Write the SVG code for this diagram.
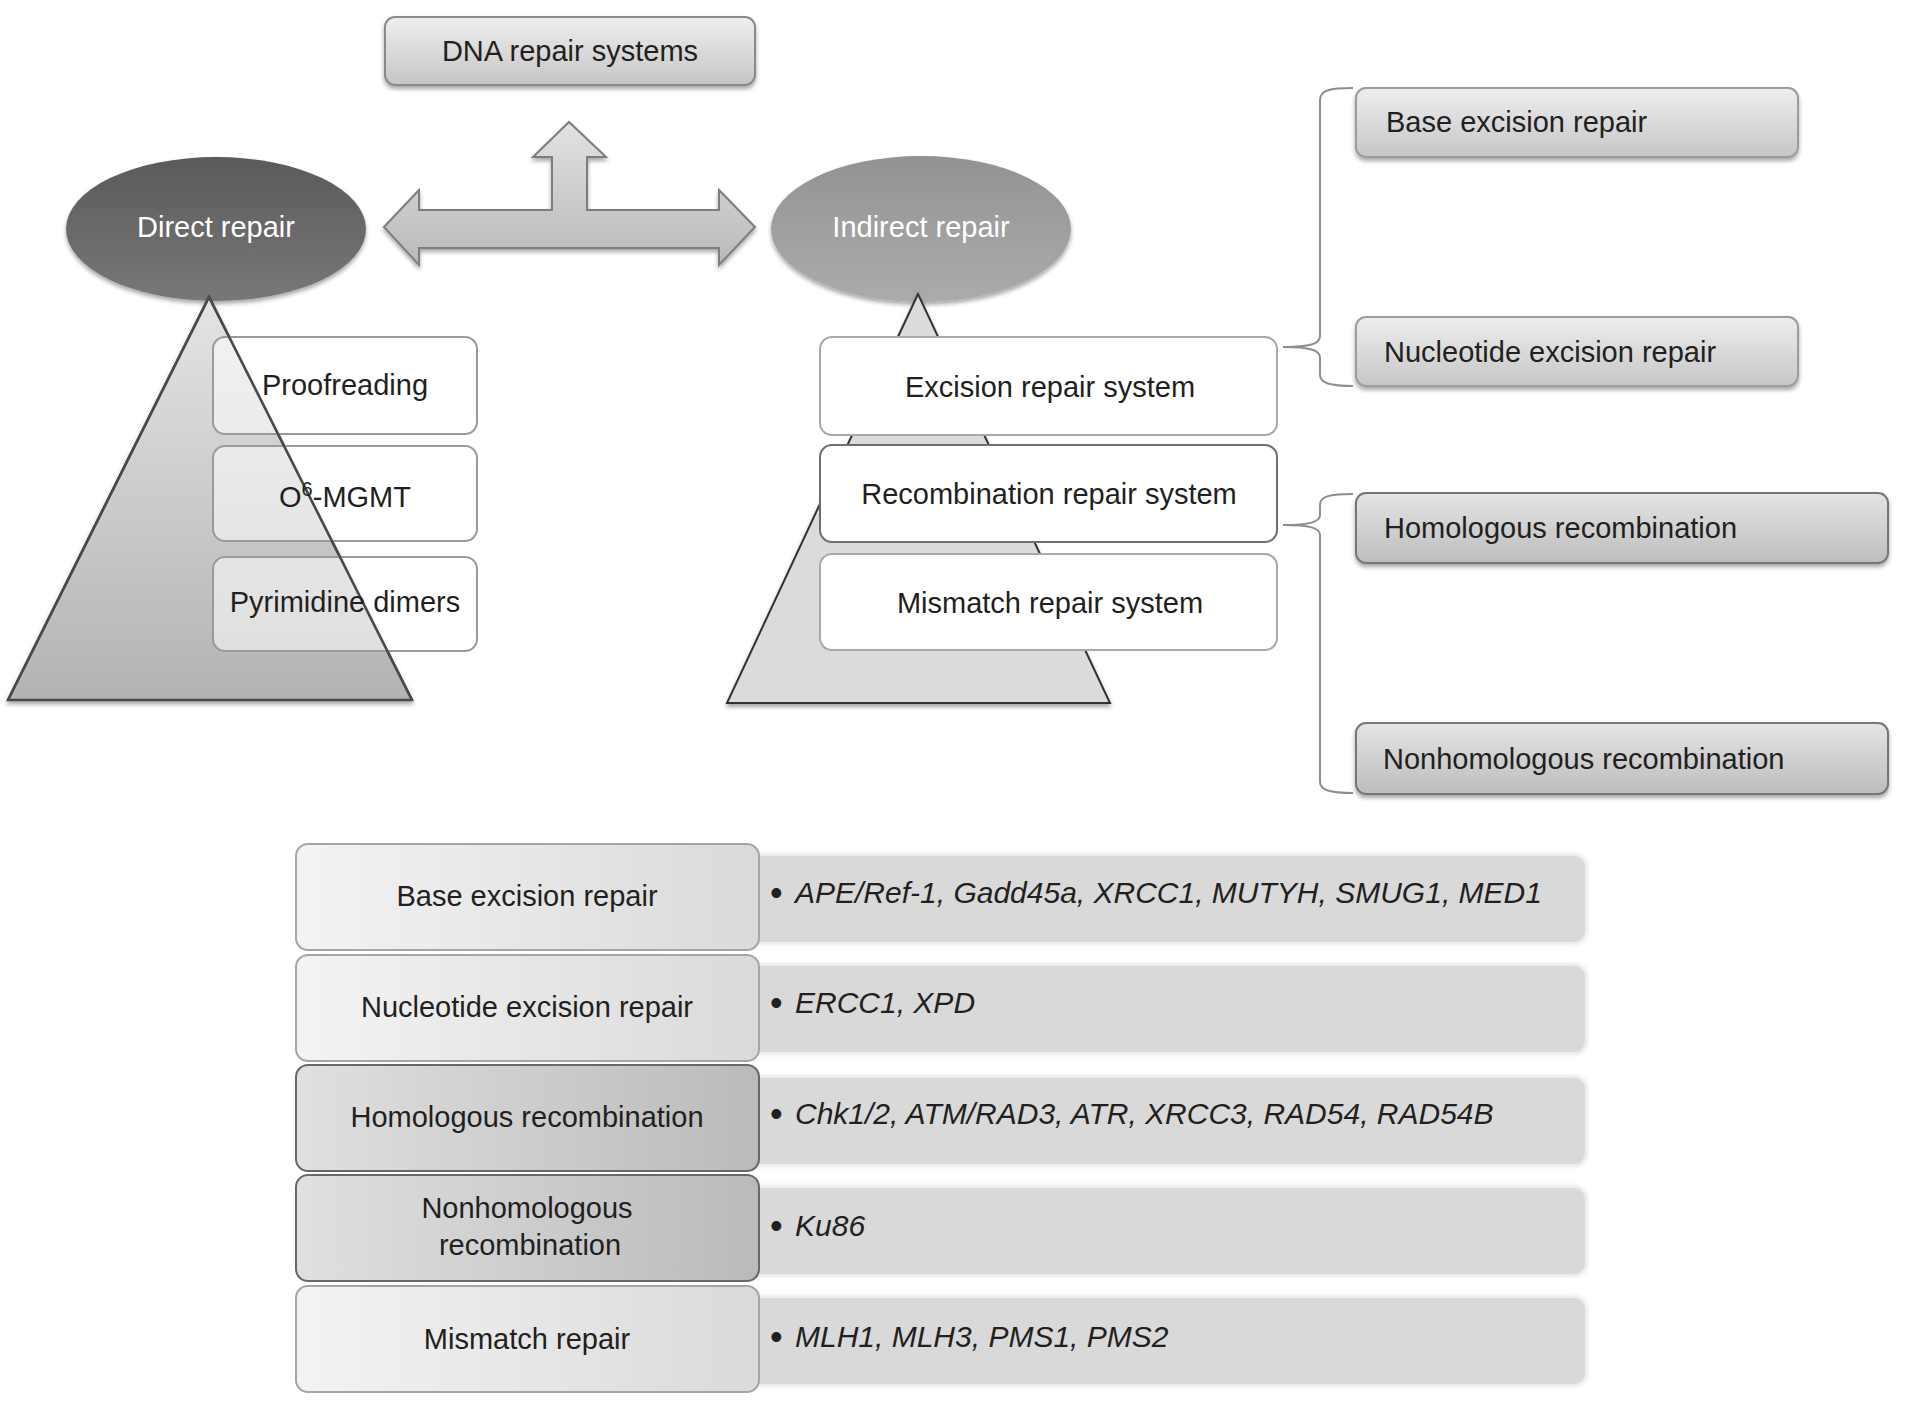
<svg xmlns="http://www.w3.org/2000/svg" width="1905" height="1407" viewBox="0 0 1905 1407">
<defs>
<style>
text{font-family:"Liberation Sans",Arial,sans-serif;fill:#231f20;font-size:29px}
.c{text-anchor:middle}
.w{fill:#ffffff}
.g{font-size:30px;font-style:italic}
.bu{font-size:36px}
.wb{fill:#ffffff;stroke:#a8a8a8;stroke-width:2}
.br{fill:none;stroke:#8e8e8e;stroke-width:2}
.lc{stroke:#a5a5a5;stroke-width:2}
.dc{stroke:#686868;stroke-width:2}
</style>
<linearGradient id="gBox" x1="0" y1="0" x2="0" y2="1"><stop offset="0" stop-color="#eeeeee"/><stop offset="1" stop-color="#c6c6c6"/></linearGradient>
<linearGradient id="gBoxD" x1="0" y1="0" x2="0" y2="1"><stop offset="0" stop-color="#e4e4e4"/><stop offset="1" stop-color="#bdbdbd"/></linearGradient>
<linearGradient id="gArrow" x1="0" y1="0" x2="0" y2="1"><stop offset="0" stop-color="#e2e2e2"/><stop offset="1" stop-color="#b9b9b9"/></linearGradient>
<linearGradient id="gDirect" x1="0" y1="0" x2="0" y2="1"><stop offset="0" stop-color="#5a5a5a"/><stop offset="0.6" stop-color="#6c6c6c"/><stop offset="1" stop-color="#787878"/></linearGradient>
<linearGradient id="gIndirect" x1="0" y1="0" x2="0" y2="1"><stop offset="0" stop-color="#929292"/><stop offset="0.6" stop-color="#a2a2a2"/><stop offset="1" stop-color="#ababab"/></linearGradient>
<linearGradient id="gTri" x1="0" y1="0" x2="0" y2="1"><stop offset="0" stop-color="#e4e4e4"/><stop offset="1" stop-color="#b3b3b3"/></linearGradient>
<linearGradient id="gCellL" x1="0" y1="0" x2="1" y2="0"><stop offset="0" stop-color="#f3f3f3"/><stop offset="1" stop-color="#dadada"/></linearGradient>
<linearGradient id="gCellD" x1="0" y1="0" x2="1" y2="0"><stop offset="0" stop-color="#e0e0e0"/><stop offset="1" stop-color="#bababa"/></linearGradient>
<filter id="sh" x="-10%" y="-10%" width="120%" height="130%"><feDropShadow dx="0" dy="3" stdDeviation="2" flood-color="#000" flood-opacity="0.35"/></filter>
<filter id="glow" x="-5%" y="-10%" width="110%" height="120%"><feDropShadow dx="0" dy="0" stdDeviation="2" flood-color="#bbbbbb" flood-opacity="0.5"/></filter>
</defs>
<rect width="1905" height="1407" fill="#ffffff"/>

<g id="dna-repair-systems">
<rect x="385" y="17" width="370" height="68" rx="10" fill="url(#gBox)" stroke="#8a8a8a" stroke-width="2" filter="url(#sh)"/>
<text class="c" x="570" y="61">DNA repair systems</text>
</g>

<g id="connectors">
<polygon points="384,227 419,190 419,210 552,210 552,157 533,157 569,122 606,157 587,157 587,210 719,210 719,190 755,227 719,265 719,248 419,248 419,265" fill="url(#gArrow)" stroke="#7d7d7d" stroke-width="2" filter="url(#sh)"/>
<path class="br" d="M1353,88 C1330,88 1320,90 1320,100 L1320,336 C1320,344 1310,347 1283,347 C1310,347 1320,350 1320,358 L1320,375 C1320,383 1330,386 1353,386"/>
<path class="br" d="M1353,494 C1330,494 1320,496 1320,505 L1320,515 C1320,522 1310,525 1283,525 C1310,525 1320,528 1320,535 L1320,782 C1320,790 1330,793 1353,793"/>
</g>

<g id="direct-repair">
<ellipse cx="216" cy="229" rx="150" ry="72" fill="url(#gDirect)" filter="url(#sh)"/>
<text class="c w" x="216" y="237">Direct repair</text>
</g>

<g id="indirect-repair">
<ellipse cx="921" cy="229" rx="150" ry="73" fill="url(#gIndirect)" filter="url(#sh)"/>
<text class="c w" x="921" y="237">Indirect repair</text>
</g>

<g id="direct-pyramid">
<polygon points="209,297 8,700 412,700" fill="url(#gTri)" stroke="#4a4a4a" stroke-width="2.5" filter="url(#sh)"/>
</g>

<g id="proofreading">
<rect x="213" y="337" width="264" height="97" rx="12" fill="#ffffff" fill-opacity="0.55" stroke="#9a9a9a" stroke-width="2"/>
</g>
<g id="o6-mgmt">
<rect x="213" y="446" width="264" height="95" rx="12" fill="#ffffff" fill-opacity="0.55" stroke="#9a9a9a" stroke-width="2"/>
</g>
<g id="pyrimidine-dimers">
<rect x="213" y="557" width="264" height="94" rx="12" fill="#ffffff" fill-opacity="0.55" stroke="#9a9a9a" stroke-width="2"/>
</g>
<g id="direct-pyramid-edge">
<polyline points="8,700 209,297 412,700" fill="none" stroke="#4a4a4a" stroke-width="2.5"/>
</g>
<g id="direct-labels">
<text class="c" x="345" y="395">Proofreading</text>
<text class="c" x="345" y="507">O<tspan font-size="20" dy="-11">6</tspan><tspan dy="11">-MGMT</tspan></text>
<text class="c" x="345" y="612">Pyrimidine dimers</text>
</g>

<g id="indirect-pyramid">
<polygon points="918,294 727,703 1110,703" fill="#dbdbdb" stroke="#333333" stroke-width="2" filter="url(#sh)"/>
</g>

<g id="excision-repair-system">
<rect class="wb" x="820" y="337" width="457" height="98" rx="12"/>
<text class="c" x="1050" y="397">Excision repair system</text>
</g>
<g id="recombination-repair-system">
<rect x="820" y="445" width="457" height="97" rx="12" fill="#ffffff" stroke="#6e6e6e" stroke-width="2"/>
<text class="c" x="1049" y="504">Recombination repair system</text>
</g>
<g id="mismatch-repair-system">
<rect class="wb" x="820" y="554" width="457" height="96" rx="12"/>
<text class="c" x="1050" y="613">Mismatch repair system</text>
</g>

<g id="base-excision-repair">
<rect x="1356" y="88" width="442" height="69" rx="10" fill="url(#gBox)" stroke="#9c9c9c" stroke-width="2" filter="url(#sh)"/>
<text x="1386" y="132">Base excision repair</text>
</g>
<g id="nucleotide-excision-repair">
<rect x="1356" y="317" width="442" height="69" rx="10" fill="url(#gBox)" stroke="#9c9c9c" stroke-width="2" filter="url(#sh)"/>
<text x="1384" y="362">Nucleotide excision repair</text>
</g>
<g id="homologous-recombination">
<rect x="1356" y="493" width="532" height="70" rx="10" fill="url(#gBoxD)" stroke="#777777" stroke-width="2" filter="url(#sh)"/>
<text x="1384" y="538">Homologous recombination</text>
</g>
<g id="nonhomologous-recombination">
<rect x="1356" y="723" width="532" height="71" rx="10" fill="url(#gBoxD)" stroke="#777777" stroke-width="2" filter="url(#sh)"/>
<text x="1383" y="769">Nonhomologous recombination</text>
</g>

<g id="table-bars" fill="#d9d9d9" stroke="#eeeeee" stroke-width="2" filter="url(#glow)">
<rect x="740" y="855" width="846" height="88" rx="12"/>
<rect x="740" y="965" width="846" height="88" rx="12"/>
<rect x="740" y="1077" width="846" height="88" rx="12"/>
<rect x="740" y="1187" width="846" height="88" rx="12"/>
<rect x="740" y="1297" width="846" height="88" rx="12"/>
</g>

<g id="row-base-excision">
<rect class="lc" x="296" y="844" width="463" height="106" rx="12" fill="url(#gCellL)"/>
<text class="c" x="527" y="906">Base excision repair</text>
<text x="770" y="905"><tspan class="bu">•</tspan><tspan class="g" x="795" y="903">APE/Ref-1, Gadd45a, XRCC1, MUTYH, SMUG1, MED1</tspan></text>
</g>
<g id="row-nucleotide-excision">
<rect class="lc" x="296" y="955" width="463" height="106" rx="12" fill="url(#gCellL)"/>
<text class="c" x="527" y="1017">Nucleotide excision repair</text>
<text x="770" y="1015"><tspan class="bu">•</tspan><tspan class="g" x="795" y="1013">ERCC1, XPD</tspan></text>
</g>
<g id="row-homologous">
<rect class="dc" x="296" y="1065" width="463" height="106" rx="12" fill="url(#gCellD)"/>
<text class="c" x="527" y="1127">Homologous recombination</text>
<text x="770" y="1126"><tspan class="bu">•</tspan><tspan class="g" x="795" y="1124">Chk1/2, ATM/RAD3, ATR, XRCC3, RAD54, RAD54B</tspan></text>
</g>
<g id="row-nonhomologous">
<rect class="dc" x="296" y="1175" width="463" height="106" rx="12" fill="url(#gCellD)"/>
<text class="c" x="527" y="1218">Nonhomologous</text>
<text class="c" x="530" y="1255">recombination</text>
<text x="770" y="1238"><tspan class="bu">•</tspan><tspan class="g" x="795" y="1236">Ku86</tspan></text>
</g>
<g id="row-mismatch">
<rect class="lc" x="296" y="1286" width="463" height="106" rx="12" fill="url(#gCellL)"/>
<text class="c" x="527" y="1349">Mismatch repair</text>
<text x="770" y="1349"><tspan class="bu">•</tspan><tspan class="g" x="795" y="1347">MLH1, MLH3, PMS1, PMS2</tspan></text>
</g>
</svg>
